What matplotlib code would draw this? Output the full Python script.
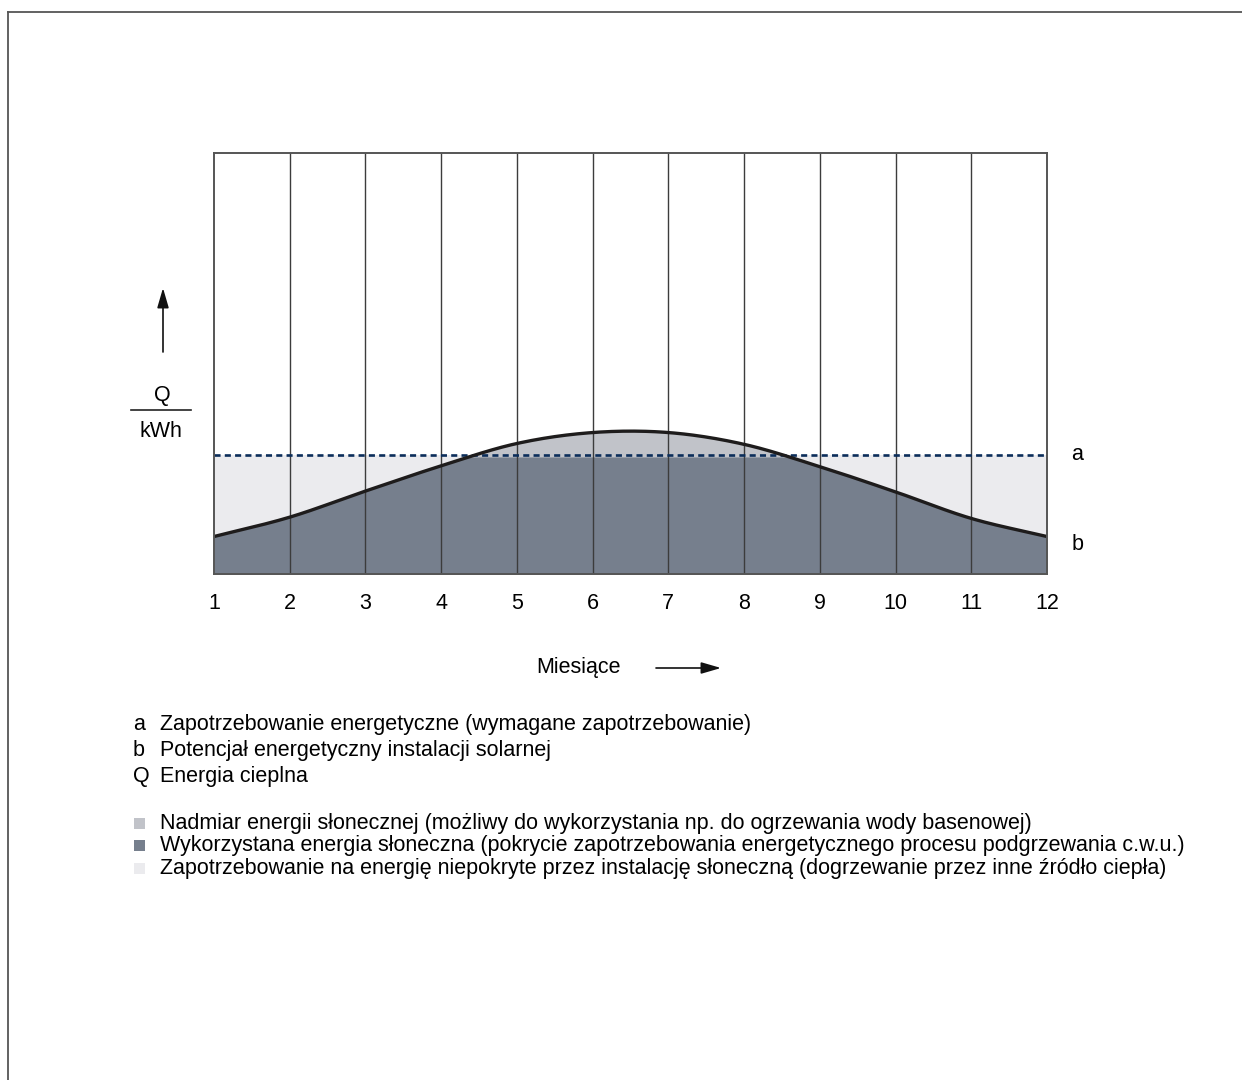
import numpy as np
import matplotlib
matplotlib.use("Agg")
import matplotlib.pyplot as plt
from matplotlib.lines import Line2D
from matplotlib.patches import Rectangle, FancyArrowPatch

plt.rcParams['font.family'] = ['Liberation Sans', 'DejaVu Sans']

# ---- data ----
months = [1, 2, 3, 4, 5, 6, 7, 8, 9, 10, 11, 12]
month_labels = ["1", "2", "3", "4", "5", "6", "7", "8", "9", "10", "11", "12"]
solar_potential = [8.9, 13.5, 19.7, 25.7, 31.0, 33.6, 33.6, 30.8, 25.5, 19.5, 13.2, 8.9]  # b
demand = 28.3  # a

legend_letters = ["a", "b", "Q"]
legend_texts = [
    "Zapotrzebowanie energetyczne (wymagane zapotrzebowanie)",
    "Potencjał energetyczny instalacji solarnej",
    "Energia cieplna",
]
area_texts = [
    "Nadmiar energii słonecznej (możliwy do wykorzystania np. do ogrzewania wody basenowej)",
    "Wykorzystana energia słoneczna (pokrycie zapotrzebowania energetycznego procesu podgrzewania c.w.u.)",
    "Zapotrzebowanie na energię niepokryte przez instalację słoneczną (dogrzewanie przez inne źródło ciepła)",
]

C_EXCESS = "#c1c3c9"
C_USED = "#767f8d"
C_UNCOVERED = "#ebebee"
C_DASH = "#0b2d5a"
area_colors = [C_EXCESS, C_USED, C_UNCOVERED]
FS = 15.5


def catmull_rom(x, y, n=40):
    x = np.asarray(x, float)
    y = np.asarray(y, float)
    xp = np.concatenate([[2 * x[0] - x[1]], x, [2 * x[-1] - x[-2]]])
    yp = np.concatenate([[2 * y[0] - y[1]], y, [2 * y[-1] - y[-2]]])
    xs, ys = [], []
    for i in range(1, len(xp) - 2):
        t = np.linspace(0, 1, n, endpoint=False)
        for arr, out in ((xp, xs), (yp, ys)):
            p0, p1, p2, p3 = arr[i - 1], arr[i], arr[i + 1], arr[i + 2]
            out.append(0.5 * ((2 * p1) + (-p0 + p2) * t
                              + (2 * p0 - 5 * p1 + 4 * p2 - p3) * t ** 2
                              + (-p0 + 3 * p1 - 3 * p2 + p3) * t ** 3))
    xs.append([x[-1]])
    ys.append([y[-1]])
    return np.concatenate(xs), np.concatenate(ys)


W, H = 1242, 1080
fig = plt.figure(figsize=(W / 100, H / 100), dpi=100)


def px(x, y):
    return (x / W, 1 - y / H)


# outer frame (left and top edges visible)
fig.add_artist(Line2D([8 / W, 8 / W], [0, 1 - 12 / H], color="#555555", lw=1.3))
fig.add_artist(Line2D([8 / W, 1], [1 - 12 / H, 1 - 12 / H], color="#555555", lw=1.3))

ax = fig.add_axes([214 / W, 1 - 574 / H, (1047 - 214) / W, (574 - 153) / H])
ax.set_xlim(months[0], months[-1])
ax.set_ylim(0, 100)

xs, ys = catmull_rom(months, solar_potential)

ax.fill_between(xs, 0, demand, color=C_UNCOVERED, lw=0, zorder=1)
ax.fill_between(xs, 0, ys, color=C_EXCESS, lw=0, zorder=2)
ax.fill_between(xs, 0, np.minimum(ys, demand - 0.5), color=C_USED, lw=0, zorder=3)

for m in months[1:-1]:
    ax.axvline(m, color="#3c3c3c", lw=1.0, zorder=4)

ax.axhline(demand, color=C_DASH, lw=1.9, linestyle=(0, (2.3, 1.6)), zorder=5)
ax.plot(xs, ys, color="#1e1c1c", lw=2.4, zorder=6, solid_capstyle="butt")

for s in ax.spines.values():
    s.set_color("#555555")
    s.set_linewidth(1.4)
    s.set_zorder(7)

ax.set_xticks(months)
ax.set_xticklabels(month_labels, fontsize=FS)
ax.tick_params(axis="x", length=0, pad=14)
ax.set_yticks([])

# right-side labels
ax.text(1.029, demand, "a", transform=ax.get_yaxis_transform(), fontsize=FS,
        va="center", ha="left")
ax.text(1.029, solar_potential[-1] - 2, "b", transform=ax.get_yaxis_transform(), fontsize=FS,
        va="center", ha="left")

# y-axis label with arrow
fig.add_artist(Line2D([131 / W, 191 / W], [1 - 410 / H, 1 - 410 / H], color="#222222", lw=1.2))
fig.text(*px(162, 396), "Q", fontsize=FS, ha="center", va="center")
fig.text(*px(161, 431), "kWh", fontsize=FS, ha="center", va="center")
fig.add_artist(FancyArrowPatch(
    px(163, 352), px(163, 288), transform=fig.transFigure,
    arrowstyle="-|>,head_length=12,head_width=3.5", color="#111111", lw=1.2,
    mutation_scale=1, shrinkA=0, shrinkB=0))

# x-axis label with arrow
fig.text(*px(578, 667), "Miesiące", fontsize=FS, ha="center", va="center")
fig.add_artist(FancyArrowPatch(
    px(656, 668), px(721, 668), transform=fig.transFigure,
    arrowstyle="-|>,head_length=12,head_width=3.5", color="#111111", lw=1.2,
    mutation_scale=1, shrinkA=0, shrinkB=0))

# legend: letters (baseline aligned)
y0 = 730
for i, (l, t) in enumerate(zip(legend_letters, legend_texts)):
    y = y0 + i * 26
    fig.text(*px(133, y), l, fontsize=FS, ha="left", va="baseline")
    fig.text(*px(160, y), t, fontsize=FS, ha="left", va="baseline")

# legend: areas
y1 = 829
for i, (c, t) in enumerate(zip(area_colors, area_texts)):
    y = y1 + i * 22.5
    fig.add_artist(Rectangle(px(134, y - 0.5), 11 / W, 11 / H,
                             transform=fig.transFigure, facecolor=c, edgecolor="none"))
    fig.text(*px(160, y), t, fontsize=FS, ha="left", va="baseline")

fig.savefig("out.png", dpi=100)
